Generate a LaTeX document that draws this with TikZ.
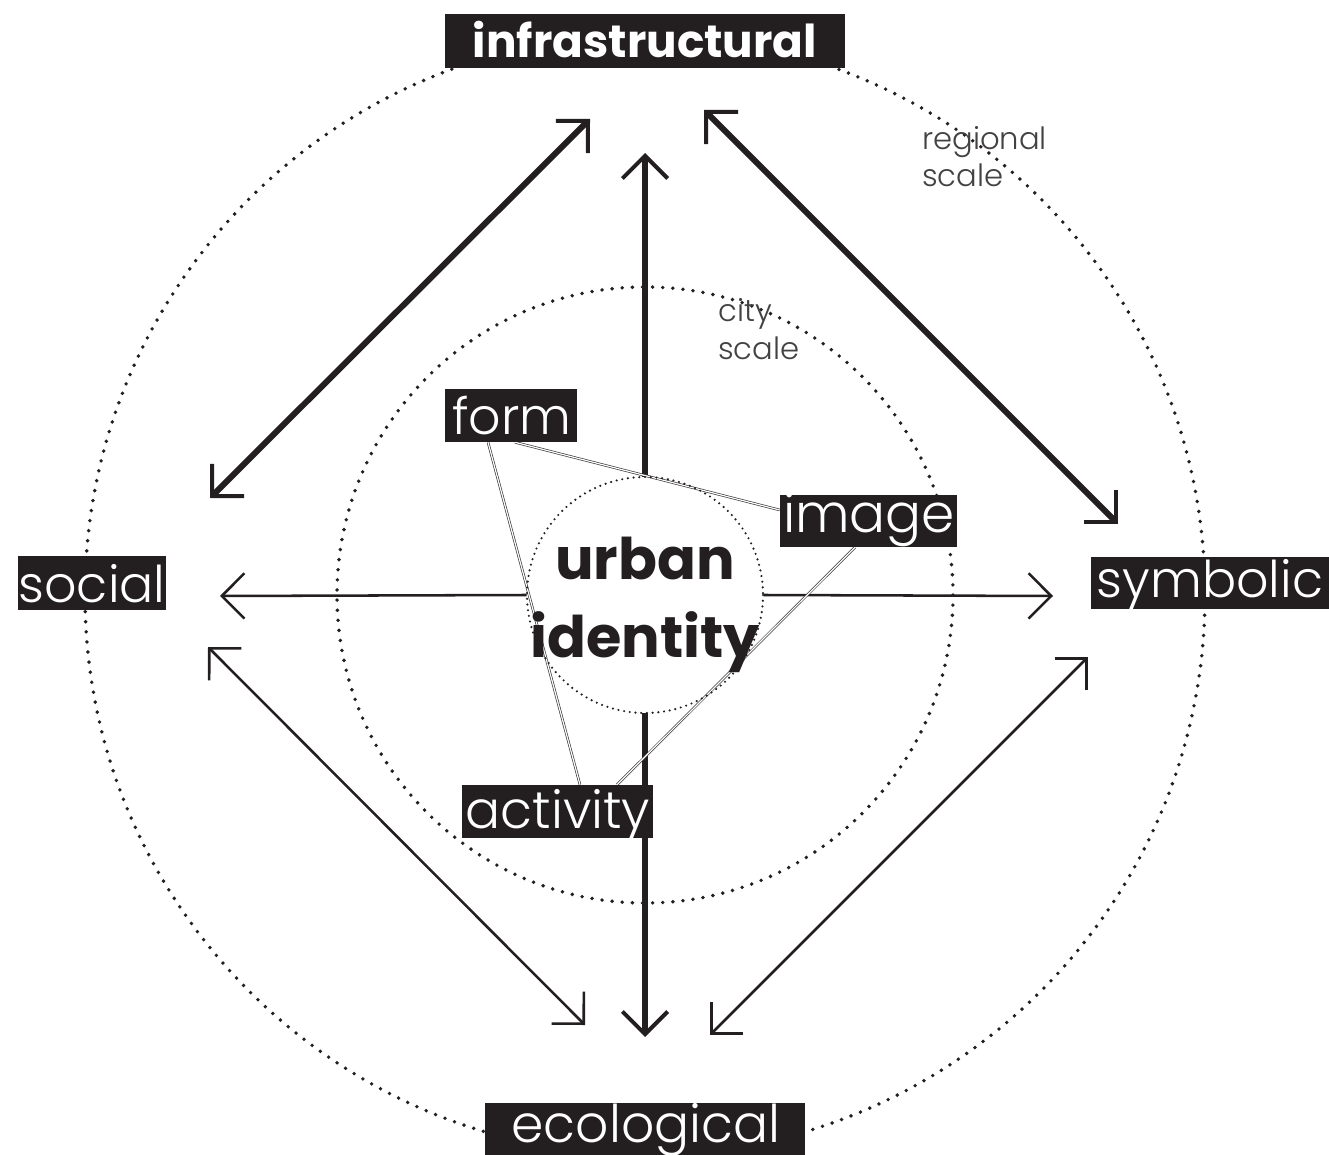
\documentclass[tikz,border=0pt]{standalone}
\usepackage{fontspec}
\setmainfont{Poppins}
\IfFontExistsTF{Poppins Light}
  {\newfontfamily\lightfont{Poppins Light}}
  {\newfontfamily\lightfont{Poppins}}
\usetikzlibrary{arrows.meta,calc}

\definecolor{ink}{HTML}{231F20}

\begin{document}
\begin{tikzpicture}[
  x=0.75pt, y=-0.75pt,
  % open chevron heads
  bigtip/.tip={Straight Barb[length=17pt, width=34pt, line width=3pt]},
  smalltip/.tip={Straight Barb[length=17pt, width=34pt, line width=1.9pt]},
  heavy/.style={draw=ink, line width=4.5pt, {bigtip}-{bigtip}},
  heavyone/.style={draw=ink, line width=4.5pt, -{bigtip}},
  light/.style={draw=ink, line width=1.9pt, {smalltip}-{smalltip}},
  lightone/.style={draw=ink, line width=1.9pt, -{smalltip}},
  ring/.style={draw=ink, line width=2.9pt, line cap=round, dash pattern=on 0pt off 7.6pt},
  link/.style={draw=ink!90, line width=0.5pt, double=white, double distance=0.9pt},
  tag/.style={fill=ink, draw=none, inner sep=0pt},
  tagtext/.style={text=white, anchor=base, inner sep=0pt},
  note/.style={text=ink!85, anchor=base west, inner sep=0pt, font=\lightfont\fontsize{23pt}{23pt}\selectfont},
  coretext/.style={text=ink, anchor=base, inner sep=0pt, font=\bfseries\fontsize{43pt}{43pt}\selectfont},
]
\useasboundingbox (0,0) rectangle (1329,1155);

% scale rings
\draw[ring] (645,595) circle[radius=560];
\draw[ring] (645,595) circle[radius=308];

% central node
\node[circle, minimum size=177pt, inner sep=0pt] (core) at (645,595) {};

% free arrow ends
\coordinate (ulA) at (210,498);
\coordinate (ulB) at (590,119);
\coordinate (urA) at (704,110);
\coordinate (urB) at (1118,524);
\coordinate (llA) at (208,647);
\coordinate (llB) at (585,1025);
\coordinate (lrA) at (1088,657);
\coordinate (lrB) at (710,1035);
\coordinate (upT) at (645,153);
\coordinate (dnT) at (645,1037);
\coordinate (lfT) at (220,596);
\coordinate (rtT) at (1053,596);

% arrows
\draw[heavy] (ulA) -- (ulB);
\draw[heavy] (urA) -- (urB);
\draw[light] (llA) -- (llB);
\draw[light] (lrA) -- (lrB);
\draw[heavyone] (core.north) -- (upT);
\draw[heavyone] (core.south) -- (dnT);
\draw[lightone] (core.west) -- (lfT);
\draw[lightone] (core.east) -- (rtT);

% label boxes of the triangle
\node[tag, minimum width=99pt, minimum height=39.75pt] (form) at (511,415.5) {};
\node[tag, minimum width=132.75pt, minimum height=39pt] (image) at (868.5,521) {};
\node[tag, minimum width=143.25pt, minimum height=39.75pt] (activity) at (557.5,811.5) {};

% triangle links
\draw[link] ($(form.south)+(4,0)$) -- ($(image.west)+(0,-11)$);
\draw[link] ($(form.south)+(-23,0)$) -- ($(activity.north)+(22.5,0)$);
\draw[link] ($(image.south)+(-13.5,0)$) -- ($(activity.north)+(59.5,0)$);

% redraw boxes above links
\node[tag, minimum width=99pt, minimum height=39.75pt] (form2) at (form) {};
\node[tag, minimum width=132.75pt, minimum height=39pt] (image2) at (image) {};
\node[tag, minimum width=143.25pt, minimum height=39.75pt] (activity2) at (activity) {};

% inner ring
\draw[draw=ink, line width=1.8pt, line cap=round, dash pattern=on 0pt off 4.3pt] (core.center) circle[radius=118];

% centre text
\node[coretext] (urban) at (645,580) {urban};
\node[coretext] (identity) at (645,657) {identity};

% scale notes
\node[note] (city) at (718,322) {city};
\node[note] (cityscale) at (718,360) {scale};
\node[note] (regional) at (922,150) {regional};
\node[note] (regscale) at (922,187) {scale};

% outer category boxes
\node[tag, minimum width=300pt, minimum height=40.5pt] (infra) at (645,41) {};
\node[tag, minimum width=111pt, minimum height=40.5pt] (social) at (92,583) {};
\node[tag, minimum width=178.5pt, minimum height=39pt] (symbolic) at (1210,583) {};
\node[tag, minimum width=240pt, minimum height=42.75pt] (ecological) at (645,1131.5) {};

% box texts
\node[tagtext, font=\bfseries\fontsize{34pt}{34pt}\selectfont] (infraT) at (645,58) {infrastructural};
\node[tagtext, font=\lightfont\fontsize{38pt}{38pt}\selectfont] (socialT) at (92,603) {social};
\node[tagtext, font=\lightfont\fontsize{38pt}{38pt}\selectfont] (symbolicT) at (1210,597) {symbolic};
\node[tagtext, font=\lightfont\fontsize{39pt}{39pt}\selectfont] (ecologicalT) at (646,1142) {ecological};
\node[tagtext, font=\lightfont\fontsize{38pt}{38pt}\selectfont] (formT) at (512,435) {form};
\node[tagtext, font=\lightfont\fontsize{40pt}{40pt}\selectfont] (imageT) at (869,533) {image};
\node[tagtext, font=\lightfont\fontsize{39pt}{39pt}\selectfont] (activityT) at (558,828) {activity};
\end{tikzpicture}
\end{document}
